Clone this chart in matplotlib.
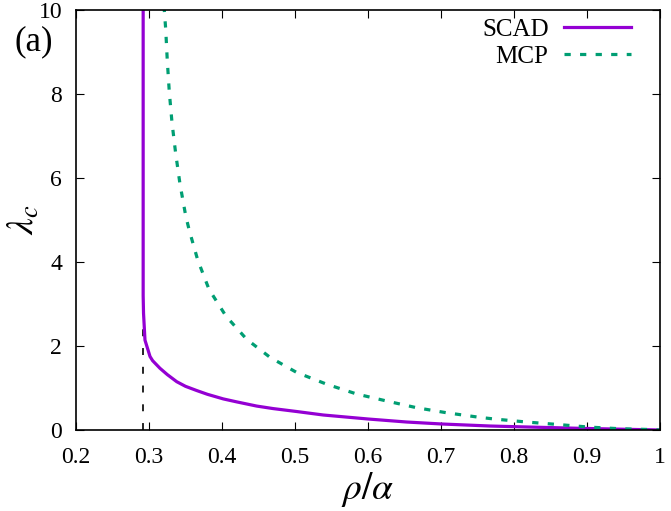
import matplotlib
matplotlib.use("Agg")
import matplotlib.pyplot as plt

plt.rcParams.update({"font.family": ["Liberation Serif", "DejaVu Serif"],
                     "mathtext.fontset": "stix", "font.size": 17,
                     "lines.scale_dashes": False})

PURPLE, GREEN = "#9400D3", "#009E73"

# SCAD critical lambda
scad_x = [0.2920, 0.2920, 0.2925, 0.2945, 0.3014, 0.305, 0.315, 0.325, 0.338, 0.350,
          0.3653, 0.380, 0.4018, 0.420, 0.4475, 0.470, 0.5023, 0.5388, 0.600,
          0.653, 0.701, 0.767, 0.799, 0.890, 1.0]
scad_y = [10.5, 3.2, 2.78, 2.14, 1.75, 1.65, 1.47, 1.32, 1.15, 1.04,
          0.94, 0.85, 0.74, 0.67, 0.57, 0.51, 0.44, 0.357, 0.262,
          0.19, 0.143, 0.095, 0.08, 0.04, 0.0]

# MCP critical lambda
mcp_x = [0.3205, 0.3229, 0.325, 0.3278, 0.3315, 0.3365, 0.3425, 0.3503, 0.3552,
         0.3667, 0.3822, 0.4055, 0.4338, 0.4658, 0.5023, 0.5434, 0.5845, 0.6256,
         0.6667, 0.7078, 0.7534, 0.774, 0.817, 0.861, 0.902, 0.945, 0.989, 1.0]
mcp_y = [10.1, 9.54, 8.81, 8.05, 7.32, 6.59, 5.85, 5.10, 4.75,
         4.05, 3.35, 2.71, 2.16, 1.73, 1.37, 1.09, 0.857, 0.69,
         0.53, 0.41, 0.30, 0.26, 0.19, 0.13, 0.07, 0.03, 0.01, 0.0]

# vertical marker at the SCAD threshold
thr_x, thr_top = 0.2913, 2.4

fig = plt.figure(figsize=(6.71, 5.11), dpi=100)
ax = fig.add_axes([76 / 671, 81 / 511, 584 / 671, 420 / 511])

ax.plot([thr_x, thr_x], [0, thr_top], color="k", lw=1.2, dashes=(5, 8.5))
ax.plot(scad_x, scad_y, color=PURPLE, lw=2.3, label="SCAD")
ax.plot(mcp_x, mcp_y, color=GREEN, lw=2.3, dashes=(4.5, 6.7), label="MCP")

ax.set_xlim(0.2, 1.0)
ax.set_ylim(0, 10)
ax.set_xticks([0.2, 0.3, 0.4, 0.5, 0.6, 0.7, 0.8, 0.9, 1.0])
ax.set_xticklabels(["0.2", "0.3", "0.4", "0.5", "0.6", "0.7", "0.8", "0.9", "1"])
ax.set_yticks([0, 2, 4, 6, 8, 10])
ax.tick_params(direction="in", length=6, width=0.8, top=True, right=True,
               labelsize=17)
ax.tick_params(axis="x", pad=12)
ax.tick_params(axis="y", pad=10)
for s in ax.spines.values():
    s.set_linewidth(1.2)

ax.set_xlabel(r"$\rho/\alpha$", fontsize=27, labelpad=2)
ax.set_ylabel(r"$\lambda_c$", fontsize=27)
ax.yaxis.set_label_coords(-34 / 584, 0.5)

ax.text(14 / 671, 1 - 42 / 511, "(a)", transform=fig.transFigure, ha="left",
        va="center", fontsize=25)

leg = ax.legend(loc="upper right", bbox_to_anchor=(631 / 671, 1 - 18 / 511),
                bbox_transform=fig.transFigure, frameon=False, handlelength=2.7,
                markerfirst=False, fontsize=18, borderpad=0, borderaxespad=0,
                labelspacing=0.2, handletextpad=0.6)

fig.savefig("out.png", dpi=100)
